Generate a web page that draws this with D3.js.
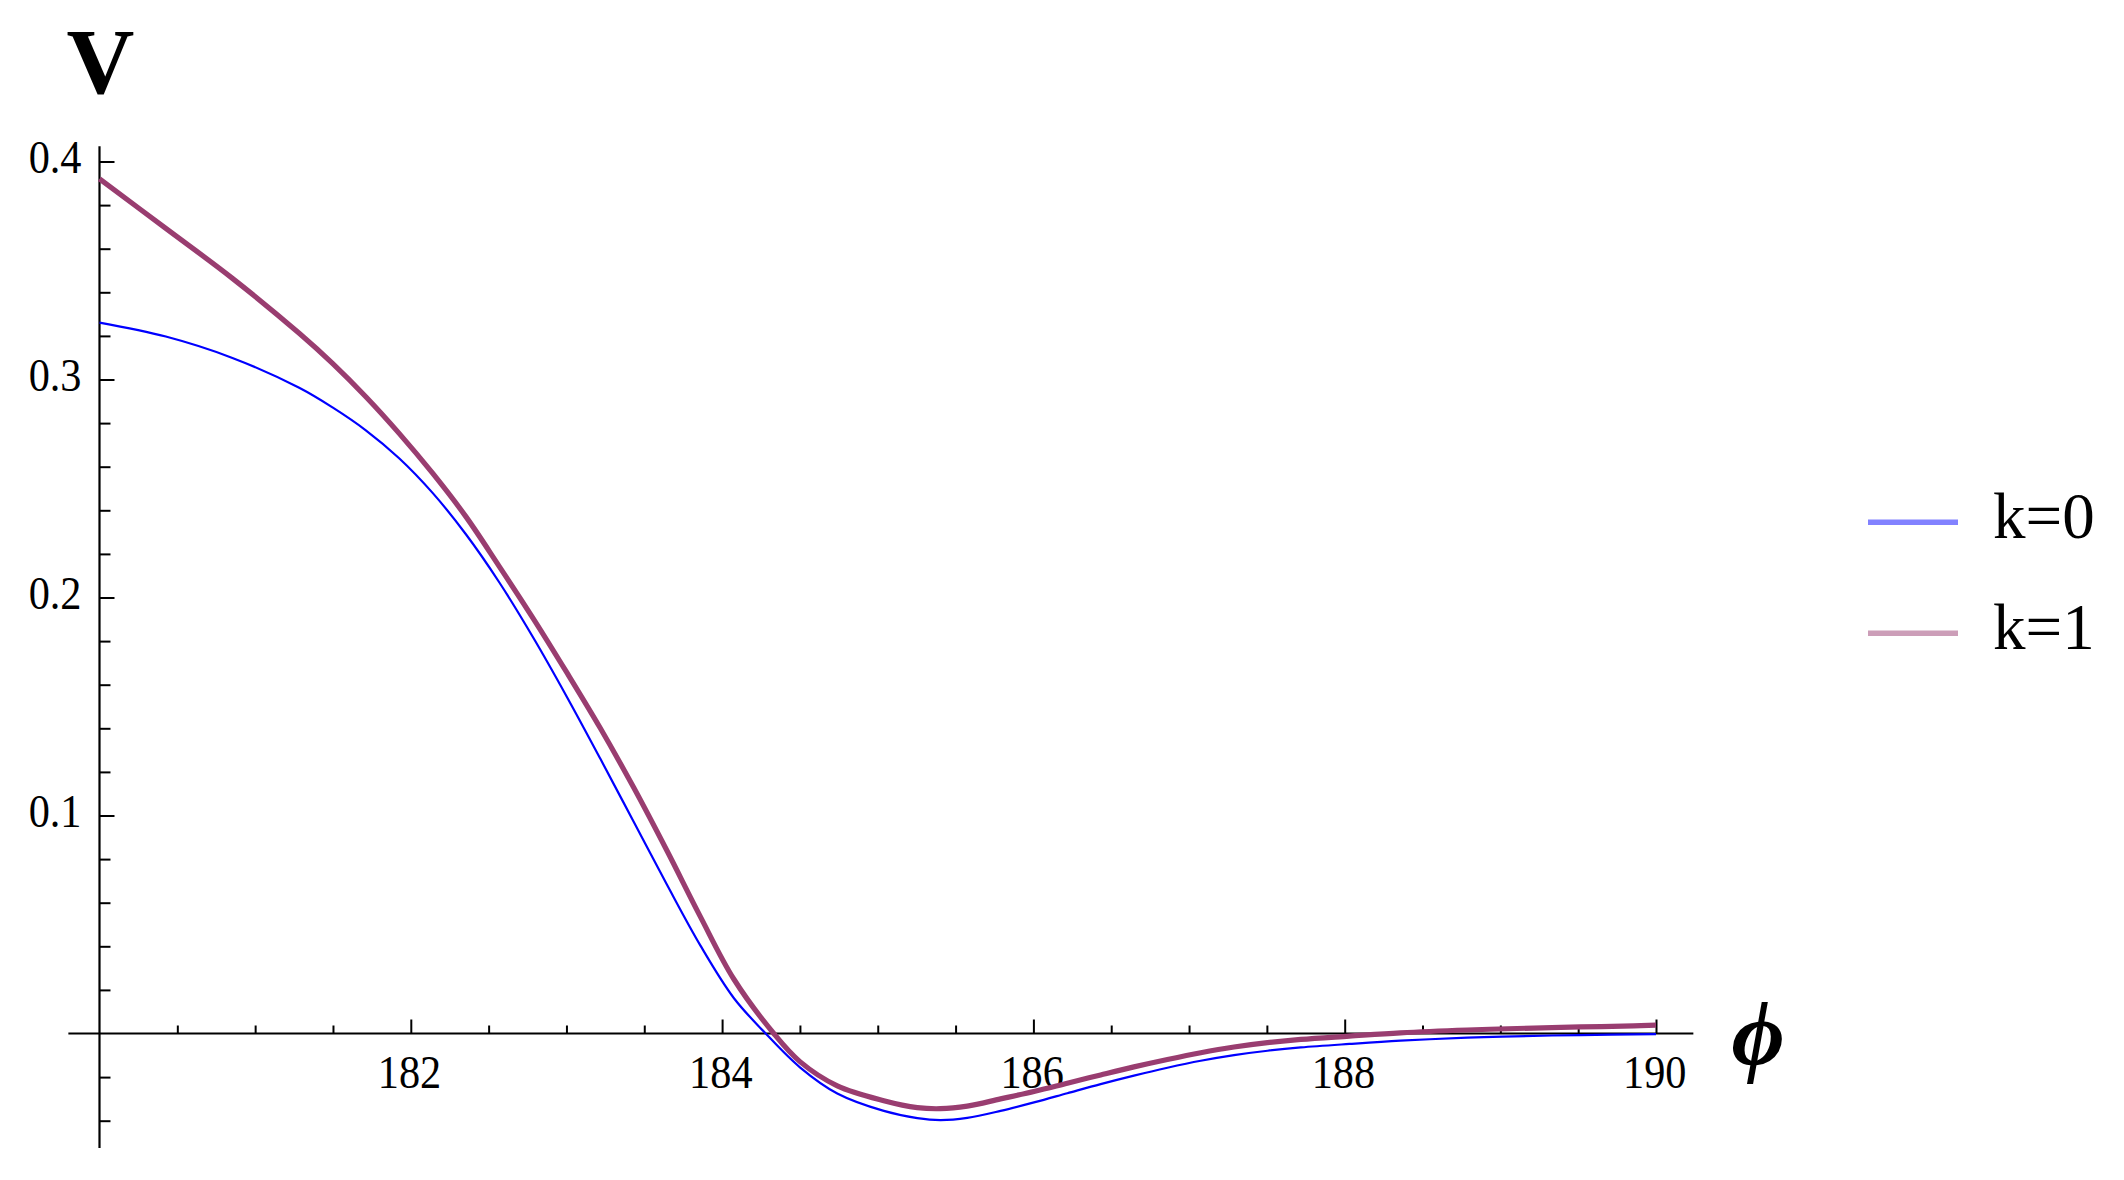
<!DOCTYPE html>
<html>
<head>
<meta charset="utf-8">
<script src="https://cdn.jsdelivr.net/npm/d3@7"></script>
<style>
  html, body { margin: 0; padding: 0; background: #ffffff; }
  svg { display: block; }
</style>
</head>
<body>
<svg id="chart" width="2124" height="1180"></svg>
<script>
// ---------------- data ----------------
const seriesNames = ["k=0", "k=1"];

const phiK0 = [180.000, 180.426, 180.854, 181.283, 181.497, 181.711, 181.925, 182.140, 182.354, 182.568,
               182.790, 183.003, 183.218, 183.432, 183.646, 183.861, 184.075, 184.280, 184.500, 184.740,
               185.039, 185.254, 185.403, 185.575, 185.789, 186.010, 186.218, 186.432, 186.646, 186.861,
               187.075, 187.289, 187.504, 187.718, 188.030, 188.358, 188.786, 189.011, 189.515, 190.000];
const vK0   = [0.3261, 0.3197, 0.3099, 0.2962, 0.2872, 0.2767, 0.2639, 0.2480, 0.2290, 0.2070,
               0.1812, 0.1544, 0.1260, 0.0971, 0.0682, 0.0403, 0.0163, 0.0000, -0.0155, -0.0275,
               -0.0355, -0.0388, -0.0397, -0.0387, -0.0355, -0.0315, -0.0274, -0.0232, -0.0193, -0.0157,
               -0.0125, -0.0099, -0.0079, -0.0064, -0.0048, -0.0033, -0.0019, -0.0014, -0.0007, -0.0003];

const phiK1 = [180.000, 180.426, 180.854, 181.283, 181.497, 181.711, 181.925, 182.140, 182.354, 182.568,
               182.790, 183.003, 183.218, 183.432, 183.646, 183.861, 184.075, 184.332, 184.500, 184.740,
               185.039, 185.254, 185.403, 185.575, 185.789, 186.010, 186.218, 186.432, 186.646, 186.861,
               187.075, 187.289, 187.504, 187.718, 188.030, 188.358, 188.786, 189.215, 189.515, 189.857, 190.000];
const vK1   = [0.3920, 0.3693, 0.3464, 0.3212, 0.3074, 0.2921, 0.2753, 0.2570, 0.2371, 0.2143,
               0.1900, 0.1655, 0.1400, 0.1128, 0.0838, 0.0535, 0.0250, 0.0000, -0.0129, -0.0240,
               -0.0308, -0.0340, -0.0345, -0.0333, -0.0300, -0.0265, -0.0228, -0.0190, -0.0153, -0.0119,
               -0.0088, -0.0062, -0.0042, -0.0027, -0.0012, 0.0003, 0.0016, 0.0025, 0.0030, 0.0035, 0.0038];

const xMajorTicks  = [182, 184, 186, 188, 190];
const xTickLabels  = ["182", "184", "186", "188", "190"];
const xMinorTicks  = [180.5, 181, 181.5, 182.5, 183, 183.5, 184.5, 185, 185.5, 186.5, 187, 187.5, 188.5, 189, 189.5];
const yMajorTicks  = [0.1, 0.2, 0.3, 0.4];
const yTickLabels  = ["0.1", "0.2", "0.3", "0.4"];
const yMinorTicks  = [-0.04, -0.02, 0.02, 0.04, 0.06, 0.08, 0.12, 0.14, 0.16, 0.18,
                      0.22, 0.24, 0.26, 0.28, 0.32, 0.34, 0.36, 0.38];
const xAxisExtent  = [179.8, 190.24];
const yAxisExtent  = [-0.0525, 0.407];
const xAxisTitle   = "\u03D5";
const yAxisTitle   = "V";

// ---------------- layout ----------------
const svg = d3.select("#chart");
const FONT = "'Liberation Serif', 'Times New Roman', serif";
const x = d3.scaleLinear().domain([180, 190]).range([99.5, 1656]);
const y = d3.scaleLinear().domain([0, 0.4]).range([1033.5, 161.5]);

const colors = ["#0000ff", "#993d70"];
const widths = [2.2, 5.2];
const legendColors = ["#8282ff", "#cc9eb8"];

// ---------------- axes ----------------
const axesG = svg.append("g");

axesG.append("line")
  .attr("x1", x(180)).attr("x2", x(180))
  .attr("y1", y(yAxisExtent[1])).attr("y2", y(yAxisExtent[0]))
  .attr("stroke", "#000").attr("stroke-width", 2.2);
axesG.append("line")
  .attr("x1", x(xAxisExtent[0])).attr("x2", x(xAxisExtent[1]))
  .attr("y1", y(0)).attr("y2", y(0))
  .attr("stroke", "#000").attr("stroke-width", 2.2);

// x axis (ticks point up into the plot, labels below)
const xAxisMajor = d3.axisBottom(x).tickValues(xMajorTicks)
  .tickFormat((d, i) => xTickLabels[i]).tickSizeInner(-14).tickSizeOuter(0).tickPadding(0);
const gx = axesG.append("g").attr("transform", `translate(0,${y(0)})`).call(xAxisMajor);
gx.select(".domain").remove();
gx.selectAll(".tick line").attr("stroke", "#000").attr("stroke-width", 2);
gx.selectAll(".tick text")
  .attr("font-family", FONT).attr("font-size", 47).attr("fill", "#000")
  .attr("dy", null).attr("y", 55).attr("x", -2)
  .attr("transform", "scale(0.9,1)");

const xAxisMinor = d3.axisBottom(x).tickValues(xMinorTicks)
  .tickFormat("").tickSizeInner(-8).tickSizeOuter(0);
const gxm = axesG.append("g").attr("transform", `translate(0,${y(0)})`).call(xAxisMinor);
gxm.select(".domain").remove();
gxm.selectAll(".tick line").attr("stroke", "#000").attr("stroke-width", 2);

// y axis (ticks point right into the plot, labels left)
const yAxisMajor = d3.axisLeft(y).tickValues(yMajorTicks)
  .tickFormat((d, i) => yTickLabels[i]).tickSizeInner(-15).tickSizeOuter(0).tickPadding(0);
const gy = axesG.append("g").attr("transform", `translate(${x(180)},0)`).call(yAxisMajor);
gy.select(".domain").remove();
gy.selectAll(".tick line").attr("stroke", "#000").attr("stroke-width", 2);
gy.selectAll(".tick text")
  .attr("font-family", FONT).attr("font-size", 47).attr("fill", "#000")
  .attr("dy", null).attr("y", 11).attr("x", -18 / 0.9)
  .attr("transform", "scale(0.9,1)");

const yAxisMinor = d3.axisLeft(y).tickValues(yMinorTicks)
  .tickFormat("").tickSizeInner(-11).tickSizeOuter(0);
const gym = axesG.append("g").attr("transform", `translate(${x(180)},0)`).call(yAxisMinor);
gym.select(".domain").remove();
gym.selectAll(".tick line").attr("stroke", "#000").attr("stroke-width", 2);

// axis titles
svg.append("text")
  .attr("x", 100.5).attr("y", 93)
  .attr("text-anchor", "middle")
  .attr("font-family", FONT).attr("font-size", 94).attr("font-weight", "bold")
  .attr("fill", "#000").text(yAxisTitle);
svg.append("text")
  .attr("x", 1758).attr("y", 1065)
  .attr("text-anchor", "middle")
  .attr("font-family", FONT).attr("font-size", 92).attr("font-weight", "bold").attr("font-style", "italic")
  .attr("fill", "#000").text(xAxisTitle);

// ---------------- curves ----------------
const series = [
  { name: seriesNames[0], phi: phiK0, v: vK0 },
  { name: seriesNames[1], phi: phiK1, v: vK1 }
];
const line = d3.line()
  .x(d => x(d[0])).y(d => y(d[1]))
  .curve(d3.curveCatmullRom.alpha(0.5));

series.forEach((s, i) => {
  const pts = s.phi.map((p, j) => [p, s.v[j]]);
  svg.append("path")
    .datum(pts)
    .attr("d", line)
    .attr("fill", "none")
    .attr("stroke", colors[i])
    .attr("stroke-width", widths[i])
    .attr("stroke-linejoin", "round")
    .attr("stroke-linecap", "butt");
});

// ---------------- legend ----------------
const legendRows = [522.3, 633.3];
series.forEach((s, i) => {
  const g = svg.append("g").attr("transform", `translate(0,${legendRows[i]})`);
  g.append("line")
    .attr("x1", 1868).attr("x2", 1958).attr("y1", 0).attr("y2", 0)
    .attr("stroke", legendColors[i]).attr("stroke-width", 5.5);
  g.append("text")
    .attr("x", 1993).attr("y", 16)
    .attr("font-family", FONT).attr("font-size", 65).attr("fill", "#000")
    .text(s.name);
});
</script>
</body>
</html>
